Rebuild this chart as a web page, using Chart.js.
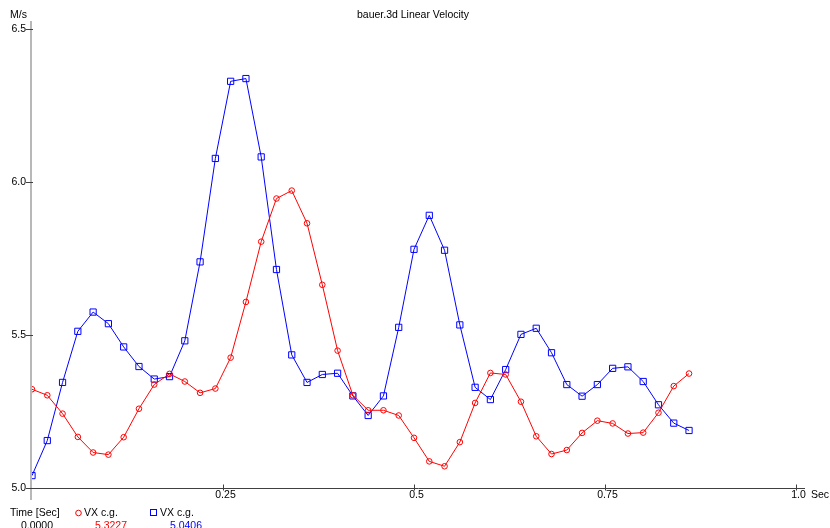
<!DOCTYPE html>
<html>
<head>
<meta charset="utf-8">
<title>bauer.3d Linear Velocity</title>
<script src="https://cdn.jsdelivr.net/npm/chart.js@4/dist/chart.umd.min.js"></script>
<style>
  html, body { margin: 0; padding: 0; background: #ffffff; }
  #wrap { position: relative; width: 830px; height: 528px; }
</style>
</head>
<body>
<div id="wrap"><canvas id="chart" width="830" height="528"></canvas></div>
<script>
// Sample times (s), one sample every 0.02 s
const times = [
  0.00, 0.02, 0.04, 0.06, 0.08, 0.10, 0.12, 0.14, 0.16, 0.18,
  0.20, 0.22, 0.24, 0.26, 0.28, 0.30, 0.32, 0.34, 0.36, 0.38,
  0.40, 0.42, 0.44, 0.46, 0.48, 0.50, 0.52, 0.54, 0.56, 0.58,
  0.60, 0.62, 0.64, 0.66, 0.68, 0.70, 0.72, 0.74, 0.76, 0.78,
  0.80, 0.82, 0.84, 0.86
];

// VX of the centre of gravity, first trace (red, circles)
const vxRed = [
  5.3227, 5.303, 5.243, 5.167, 5.116, 5.109, 5.166, 5.259, 5.338, 5.373,
  5.348, 5.311, 5.325, 5.426, 5.608, 5.805, 5.946, 5.972, 5.865, 5.664,
  5.449, 5.303, 5.254, 5.254, 5.237, 5.164, 5.087, 5.071, 5.150, 5.278,
  5.376, 5.371, 5.282, 5.169, 5.111, 5.124, 5.180, 5.220, 5.211, 5.178,
  5.181, 5.246, 5.333, 5.374
];

// VX of the centre of gravity, second trace (blue, squares)
const vxBlue = [
  5.0406, 5.155, 5.345, 5.512, 5.575, 5.537, 5.461, 5.397, 5.356, 5.364,
  5.481, 5.739, 6.077, 6.329, 6.338, 6.082, 5.714, 5.435, 5.345, 5.371,
  5.375, 5.301, 5.237, 5.301, 5.525, 5.780, 5.891, 5.777, 5.533, 5.329,
  5.289, 5.387, 5.502, 5.522, 5.442, 5.338, 5.300, 5.338, 5.391, 5.396,
  5.348, 5.272, 5.212, 5.188
];

// Axis tick values and their printed labels
const xTicks = [0.25, 0.5, 0.75, 1.0];
const xTickLabels = ['0.25', '0.5', '0.75', '1.0'];
const yTicks = [5.0, 5.5, 6.0, 6.5];
const yTickLabels = ['5.0', '5.5', '6.0', '6.5'];

// Texts
const chartTitle = 'bauer.3d Linear Velocity';
const yUnit = 'M/s';
const xUnit = 'Sec';
const seriesName = 'VX c.g.';
const readoutTimeLabel = 'Time [Sec]';
const readoutTime = '0.0000';
const readoutRed = '5.3227';
const readoutBlue = '5.0406';

const RED = '#ff0000';
const BLUE = '#0000ff';
const FONT = '10.5px "Liberation Sans", Arial, sans-serif';

const toPoints = (vals) => vals.map((v, i) => ({ x: times[i], y: v }));

// Axes with tick marks and labels, unit labels, title and the readout row
const decorations = {
  id: 'decorations',
  beforeDatasetsDraw(chart) {
    const ctx = chart.ctx;
    const xs = chart.scales.x, ys = chart.scales.y;
    const x0 = xs.getPixelForValue(0);
    const yBase = ys.getPixelForValue(5.0);
    ctx.save();
    // vertical axis
    ctx.strokeStyle = '#b8b8b8';
    ctx.lineWidth = 2;
    ctx.beginPath();
    ctx.moveTo(x0 - 1, ys.getPixelForValue(6.5) - 8);
    ctx.lineTo(x0 - 1, yBase + 12);
    ctx.stroke();
    // vertical axis ticks and labels
    ctx.strokeStyle = '#404040';
    ctx.lineWidth = 1;
    ctx.font = FONT;
    ctx.fillStyle = '#000000';
    ctx.textAlign = 'right';
    ctx.textBaseline = 'middle';
    yTicks.forEach((v, i) => {
      const py = Math.round(ys.getPixelForValue(v)) + 0.5;
      ctx.beginPath();
      ctx.moveTo(x0 - 6, py);
      ctx.lineTo(x0 + 1, py);
      ctx.stroke();
      ctx.fillText(yTickLabels[i], x0 - 6, py);
    });
    // horizontal axis, ticks and labels
    const by = Math.round(yBase) + 0.5;
    ctx.beginPath();
    ctx.moveTo(x0, by);
    ctx.lineTo(xs.getPixelForValue(1.0) + 9, by);
    ctx.stroke();
    ctx.textAlign = 'center';
    xTicks.forEach((v, i) => {
      const px = Math.round(xs.getPixelForValue(v)) + 0.5;
      ctx.beginPath();
      ctx.moveTo(px, by - 4);
      ctx.lineTo(px, by + 2);
      ctx.stroke();
      ctx.fillText(xTickLabels[i], px + 2, by + 7);
    });
    ctx.restore();
  },
  afterDraw(chart) {
    const ctx = chart.ctx;
    ctx.save();
    ctx.font = FONT;
    ctx.textBaseline = 'middle';
    ctx.fillStyle = '#000000';
    ctx.textAlign = 'center';
    ctx.fillText(chartTitle, 413, 15);
    ctx.textAlign = 'left';
    ctx.fillText(yUnit, 10, 15);
    ctx.fillText(xUnit, 811, 495);

    // readout row
    const ry = 513, ry2 = 526;
    ctx.fillText(readoutTimeLabel, 10, ry);
    ctx.fillText(seriesName, 84, ry);
    ctx.fillText(seriesName, 160, ry);
    ctx.textAlign = 'right';
    ctx.fillText(readoutTime, 53, ry2);
    ctx.fillStyle = RED;
    ctx.fillText(readoutRed, 127, ry2);
    ctx.fillStyle = BLUE;
    ctx.fillText(readoutBlue, 202, ry2);

    // legend markers
    ctx.lineWidth = 1;
    ctx.strokeStyle = RED;
    ctx.beginPath();
    ctx.arc(78.5, ry, 2.8, 0, Math.PI * 2);
    ctx.stroke();
    ctx.strokeStyle = BLUE;
    ctx.strokeRect(150.5, ry - 3.5, 6, 6);
    ctx.restore();
  }
};

new Chart(document.getElementById('chart'), {
  type: 'line',
  data: {
    datasets: [
      {
        label: seriesName,
        data: toPoints(vxRed),
        borderColor: RED,
        borderWidth: 1,
        pointStyle: 'circle',
        pointRadius: 2.8,
        pointBorderColor: RED,
        pointBackgroundColor: 'rgba(255,255,255,0)',
        pointBorderWidth: 1,
        tension: 0
      },
      {
        label: seriesName,
        data: toPoints(vxBlue),
        borderColor: BLUE,
        borderWidth: 1,
        pointStyle: 'rect',
        pointRadius: 4.4,
        pointBorderColor: BLUE,
        pointBackgroundColor: 'rgba(255,255,255,0)',
        pointBorderWidth: 1,
        tension: 0
      }
    ]
  },
  options: {
    responsive: false,
    animation: false,
    events: [],
    layout: { padding: { left: 0, top: 29, right: 34, bottom: 0 } },
    plugins: {
      legend: { display: false },
      title: { display: false },
      tooltip: { enabled: false }
    },
    scales: {
      x: {
        type: 'linear',
        min: 0,
        max: 1.0,
        grid: { display: false },
        border: { display: false },
        ticks: { display: false },
        afterFit(scale) { scale.height = 40; },
        afterBuildTicks(scale) { scale.ticks = xTicks.map(v => ({ value: v })); }
      },
      y: {
        type: 'linear',
        min: 5.0,
        max: 6.5,
        grid: { display: false },
        border: { display: false },
        ticks: { display: false },
        afterFit(scale) { scale.width = 32; },
        afterBuildTicks(scale) { scale.ticks = yTicks.map(v => ({ value: v })); }
      }
    }
  },
  plugins: [decorations]
});
</script>
</body>
</html>
